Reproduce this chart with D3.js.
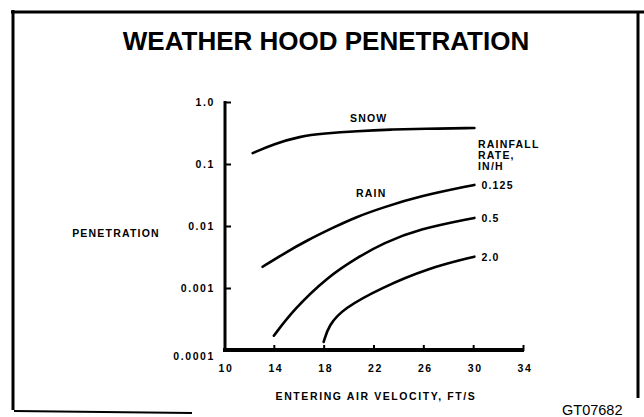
<!DOCTYPE html>
<html><head><meta charset="utf-8">
<script src="https://cdn.jsdelivr.net/npm/d3@7"></script>
<style>
html,body{margin:0;padding:0;background:#fff;}
svg{display:block;}
text{font-family:"Liberation Sans",Arial,sans-serif;fill:#000;}
</style></head>
<body>
<script>
// ---- data ----
const xTicks = [10, 14, 18, 22, 26, 30, 34];
const yTicks = [0.0001, 0.001, 0.01, 0.1, 1.0];
const yTickLabels = ["0.0001", "0.001", "0.01", "0.1", "1.0"];

const snowX = [12.3, 14.0, 16.1, 18.0, 20.7, 23.4, 26.0, 30.1];
const snowY = [0.15, 0.21, 0.28, 0.31, 0.34, 0.36, 0.37, 0.38];

const rain0125X = [13.1, 14.9, 16.7, 18.7, 20.6, 22.8, 25.6, 30.1];
const rain0125Y = [0.0022, 0.0037, 0.0059, 0.0093, 0.014, 0.020, 0.030, 0.046];

const rain05X = [14.0, 15.6, 18.3, 20.7, 22.8, 25.6, 30.1];
const rain05Y = [0.00017, 0.00045, 0.0015, 0.0031, 0.0053, 0.0089, 0.0135];

const rain2X = [18.0, 18.4, 19.6, 22.6, 26.4, 30.1];
const rain2Y = [0.000135, 0.00025, 0.00047, 0.0010, 0.0021, 0.0032];

const rateLabels = ["0.125", "0.5", "2.0"];

// ---- drawing ----
const W = 644, H = 417;
const svg = d3.select("body").append("svg").attr("width", W).attr("height", H);

const x = d3.scaleLinear().domain([10, 34]).range([224, 523]);
const y = d3.scaleLog().domain([0.0001, 1]).range([350, 102]);

// frame
svg.append("line").attr("x1", 11).attr("x2", 644).attr("y1", 12).attr("y2", 12)
  .attr("stroke", "#000").attr("stroke-width", 3);
svg.append("line").attr("x1", 13).attr("x2", 13).attr("y1", 10).attr("y2", 410)
  .attr("stroke", "#000").attr("stroke-width", 3);
svg.append("line").attr("x1", 638).attr("x2", 638).attr("y1", 12).attr("y2", 398)
  .attr("stroke", "#000").attr("stroke-width", 3);
svg.append("line").attr("x1", 14).attr("x2", 192).attr("y1", 411).attr("y2", 413)
  .attr("stroke", "#000").attr("stroke-width", 2);

// title
svg.append("text").attr("x", 326).attr("y", 50).attr("text-anchor", "middle")
  .style("font-size", "26px").style("font-weight", "bold")
  .text("WEATHER HOOD PENETRATION");

// y axis
const yAxis = d3.axisRight(y).tickValues(yTicks).tickSize(6).tickFormat("");
const gy = svg.append("g").attr("transform", "translate(225,0)").call(yAxis);
gy.select(".domain").remove();
gy.selectAll(".tick line").attr("stroke-width", 2);
svg.append("line").attr("x1", 225).attr("x2", 225).attr("y1", 101).attr("y2", 352)
  .attr("stroke", "#000").attr("stroke-width", 3);

const tickStyle = s => s.style("font-size", "10.5px").style("font-weight", "bold").style("letter-spacing", "1.6px");
yTicks.forEach((v, i) => {
  tickStyle(svg.append("text").attr("x", 215).attr("y", v === 0.0001 ? y(v) + 10 : y(v) + 4)
    .attr("text-anchor", "end")).text(yTickLabels[i]);
});

// x axis
const xAxis = d3.axisTop(x).tickValues(xTicks.slice(1)).tickSize(6).tickFormat("");
const gx = svg.append("g").attr("transform", "translate(0,351)").call(xAxis);
gx.select(".domain").remove();
gx.selectAll(".tick line").attr("stroke-width", 2);
svg.append("line").attr("x1", 223).attr("x2", 524).attr("y1", 350).attr("y2", 350)
  .attr("stroke", "#000").attr("stroke-width", 4);

xTicks.forEach(v => {
  tickStyle(svg.append("text").attr("x", x(v) + 2).attr("y", 372).attr("text-anchor", "middle"))
    .text(String(v));
});

// axis titles
svg.append("text").attr("x", 376).attr("y", 400).attr("text-anchor", "middle")
  .style("font-size", "10.5px").style("font-weight", "bold").style("letter-spacing", "1.6px")
  .text("ENTERING AIR VELOCITY, FT/S");
svg.append("text").attr("x", 116).attr("y", 237).attr("text-anchor", "middle")
  .style("font-size", "10.5px").style("font-weight", "bold").style("letter-spacing", "1.2px")
  .text("PENETRATION");

// curves
const line = d3.line().x(d => x(d[0])).y(d => y(d[1])).curve(d3.curveBasis);
const series = [
  [snowX, snowY],
  [rain0125X, rain0125Y],
  [rain05X, rain05Y],
  [rain2X, rain2Y]
];
series.forEach(([xs, ys]) => {
  svg.append("path").datum(xs.map((v, i) => [v, ys[i]]))
    .attr("d", line).attr("fill", "none").attr("stroke", "#000")
    .attr("stroke-width", 2.6).attr("stroke-linecap", "round");
});

// curve labels
const lblStyle = s => s.style("font-size", "10.5px").style("font-weight", "bold").style("letter-spacing", "1.2px");
lblStyle(svg.append("text").attr("x", 350).attr("y", 122).text("SNOW"));
lblStyle(svg.append("text").attr("x", 356).attr("y", 197).text("RAIN"));
lblStyle(svg.append("text").attr("x", 478).attr("y", 148).text("RAINFALL"));
lblStyle(svg.append("text").attr("x", 478).attr("y", 159).text("RATE,"));
lblStyle(svg.append("text").attr("x", 478).attr("y", 170).text("IN/H"));

[[rain0125X, rain0125Y], [rain05X, rain05Y], [rain2X, rain2Y]].forEach(([xs, ys], i) => {
  const n = xs.length - 1;
  lblStyle(svg.append("text").attr("x", x(xs[n]) + 7).attr("y", y(ys[n]) + 4).text(rateLabels[i]));
});

// figure id
svg.append("text").attr("x", 562).attr("y", 415)
  .style("font-size", "14.5px").text("GT07682");
</script>
</body></html>
